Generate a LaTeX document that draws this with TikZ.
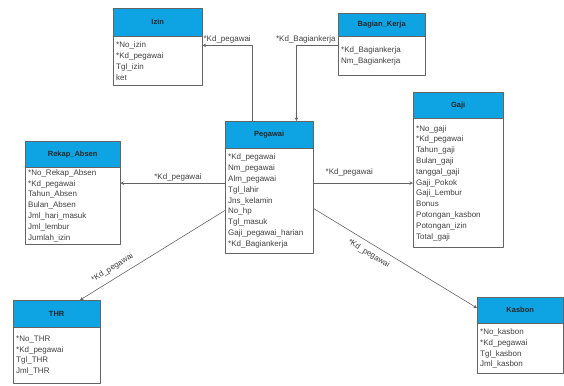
\documentclass[tikz,border=0pt]{standalone}
\usepackage{fontspec}
\setmainfont{Liberation Sans}
\definecolor{hdr}{RGB}{14,164,228}
\definecolor{lin}{RGB}{100,100,100}
\begin{document}
\begin{tikzpicture}
	[x=1pt,y=-1pt,line join=round, >=stealth,
	hd/.style={draw=lin,fill=hdr,anchor=north west,inner sep=0pt,font=\fontsize{7.5}{9}\selectfont\bfseries,text=black!85},
	bd/.style={draw=lin,fill=white,anchor=north west,align=left,inner xsep=3pt,inner ysep=2pt,font=\fontsize{8}{10.8}\selectfont,text=black!75},
	rel/.style={draw=lin,->,line width=0.6pt},
	lbl/.style={font=\fontsize{8}{9}\selectfont,text=black!75,inner sep=2pt}]
	\useasboundingbox (0,0) rectangle (564,385);
	% tabel
	\node[hd,minimum width=89pt,minimum height=28pt] (izin) at (113,8) {Izin};
	\node[bd,text width=83pt,minimum height=49pt] (izinb) at (izin.south west) {*No\_izin\\{*}Kd\_pegawai\\Tgl\_izin\\ket};
	\node[hd,minimum width=87pt,minimum height=23pt] (bag) at (338,13) {Bagian\_Kerja};
	\node[bd,text width=81pt,minimum height=39pt] (bagb) at (bag.south west) {*Kd\_Bagiankerja\\Nm\_Bagiankerja};
	\node[hd,minimum width=88pt,minimum height=27pt] (peg) at (225,121) {Pegawai};
	\node[bd,text width=82pt,minimum height=105pt] (pegb) at (peg.south west) {*Kd\_pegawai\\Nm\_pegawai\\Alm\_pegawai\\Tgl\_lahir\\Jns\_kelamin\\No\_hp\\Tgl\_masuk\\Gaji\_pegawai\_harian\\{*}Kd\_Bagiankerja};
	\node[hd,minimum width=95pt,minimum height=26pt] (rek) at (25,141) {Rekap\_Absen};
	\node[bd,text width=89pt,minimum height=76pt] (rekb) at (rek.south west) {*No\_Rekap\_Absen\\{*}Kd\_pegawai\\Tahun\_Absen\\Bulan\_Absen\\Jml\_hari\_masuk\\Jml\_lembur\\Jumlah\_izin};
	\node[hd,minimum width=90pt,minimum height=26pt] (gaji) at (413,92) {Gaji};
	\node[bd,text width=84pt,minimum height=129pt] (gajib) at (gaji.south west) {*No\_gaji\\{*}Kd\_pegawai\\Tahun\_gaji\\Bulan\_gaji\\tanggal\_gaji\\Gaji\_Pokok\\Gaji\_Lembur\\Bonus\\Potongan\_kasbon\\Potongan\_izin\\Total\_gaji};
	\node[hd,minimum width=87pt,minimum height=27pt] (thr) at (13,300) {THR};
	\node[bd,text width=81pt,minimum height=56pt] (thrb) at (thr.south west) {*No\_THR\\{*}Kd\_pegawai\\Tgl\_THR\\Jml\_THR};
	\node[hd,minimum width=86pt,minimum height=26pt] (kas) at (477,297) {Kasbon};
	\node[bd,text width=80pt,minimum height=50pt] (kasb) at (kas.south west) {*No\_kasbon\\{*}Kd\_pegawai\\Tgl\_kasbon\\Jml\_kasbon};
	% relasi
	\coordinate (p1) at ([yshift=18pt]pegb.west);
	\draw[rel] ([xshift=27pt]peg.north west) |- ([yshift=-9pt]izinb.north east) node[lbl,pos=0.75,above]{*Kd\_pegawai};
	\draw[rel] ([yshift=-9pt]bagb.north west) node[lbl,above left]{*Kd\_Bagiankerja} -| ([xshift=-17pt]peg.north east);
	\draw[rel] (p1) -- (p1 -| rekb.east) node[lbl,pos=0.45,above]{*Kd\_pegawai};
	\draw[rel] (p1 -| pegb.east) -- (p1 -| gajib.west) node[lbl,pos=0.36,above,yshift=5pt]{*Kd\_pegawai};
	\draw[rel] ([yshift=-62pt]pegb.north west) -- ([xshift=67pt]thr.north west) node[lbl,pos=0.74,sloped,above=4pt]{*Kd\_pegawai};
	\draw[rel] ([yshift=-60pt]pegb.north east) -- ([yshift=-11pt]kas.north west) node[lbl,pos=0.37,sloped,below=4pt]{*Kd\_pegawai};
\end{tikzpicture}
\end{document}
